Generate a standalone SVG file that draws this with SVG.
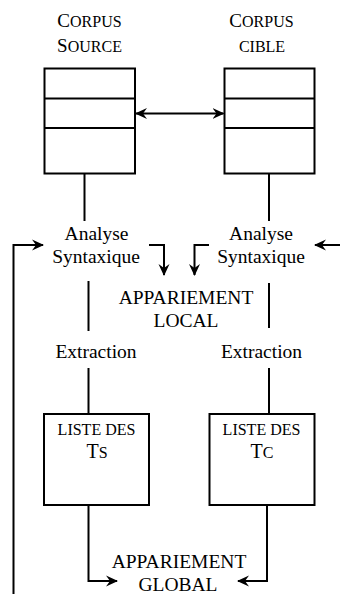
<svg xmlns="http://www.w3.org/2000/svg" width="340" height="594" viewBox="0 0 340 594">
<style>
text{font-family:"Liberation Serif","Times New Roman",serif;fill:#000;text-anchor:middle}
.t{font-size:19.5px}
.big{font-size:19px}
.sc{font-size:16px}
.box{fill:#fff;stroke:#000;stroke-width:2}
.ln{fill:none;stroke:#000;stroke-width:2}
.ar{fill:none;stroke:#000;stroke-width:2;marker-end:url(#ah)}
.ar2{fill:none;stroke:#000;stroke-width:2;marker-end:url(#ah);marker-start:url(#ahs)}
</style>
<defs>
<marker id="ah" viewBox="0 0 12 12" refX="11" refY="6" markerWidth="12" markerHeight="12" markerUnits="userSpaceOnUse" orient="auto">
<path d="M0,0.5 L12,6 L0,11.5 L4,6 z" fill="#000"/>
</marker>
<marker id="ahs" viewBox="0 0 12 12" refX="1" refY="6" markerWidth="12" markerHeight="12" markerUnits="userSpaceOnUse" orient="auto">
<path d="M12,0.5 L0,6 L12,11.5 L8,6 z" fill="#000"/>
</marker>
</defs>
<g id="corpus-source">
<text x="89.5" y="27"><tspan class="big">C</tspan><tspan class="sc">ORPUS</tspan></text>
<text x="89.5" y="52"><tspan class="big">S</tspan><tspan class="sc">OURCE</tspan></text>
<rect class="box" x="44.5" y="68.5" width="90.5" height="105"/>
<line class="ln" x1="44.5" y1="98.5" x2="135" y2="98.5"/>
<line class="ln" x1="44.5" y1="128" x2="135" y2="128"/>
</g>
<g id="corpus-cible">
<text x="261.5" y="27"><tspan class="big">C</tspan><tspan class="sc">ORPUS</tspan></text>
<text x="262" y="52" class="sc">CIBLE</text>
<rect class="box" x="224.5" y="68.5" width="90" height="105"/>
<line class="ln" x1="224.5" y1="98.5" x2="314.5" y2="98.5"/>
<line class="ln" x1="224.5" y1="128" x2="314.5" y2="128"/>
</g>
<g id="analyse-source">
<text class="t" x="96.5" y="240">Analyse</text>
<text class="t" x="96" y="263">Syntaxique</text>
</g>
<g id="analyse-cible">
<text class="t" x="261" y="240">Analyse</text>
<text class="t" x="261" y="263">Syntaxique</text>
</g>
<g id="appariement-local">
<text class="t" x="186" y="304">APPARIEMENT</text>
<text class="t" x="186" y="327">LOCAL</text>
</g>
<g id="extraction-source">
<text class="t" x="96" y="358">Extraction</text>
</g>
<g id="extraction-cible">
<text class="t" x="261.5" y="358">Extraction</text>
</g>
<g id="liste-ts">
<rect class="box" x="44" y="414" width="105" height="91"/>
<text class="sc" x="96.5" y="435">LISTE DES</text>
<text x="97" y="458"><tspan style="font-size:20px">T</tspan><tspan class="sc">S</tspan></text>
</g>
<g id="liste-tc">
<rect class="box" x="209.5" y="414" width="105" height="91"/>
<text class="sc" x="261.5" y="435">LISTE DES</text>
<text x="262" y="458"><tspan style="font-size:20px">T</tspan><tspan class="sc">C</tspan></text>
</g>
<g id="appariement-global">
<text class="t" x="179" y="568">APPARIEMENT</text>
<text class="t" x="178" y="591">GLOBAL</text>
</g>
<g id="connectors">
<line class="ar2" x1="136" y1="113.5" x2="223.5" y2="113.5"/>
<line class="ln" x1="84.5" y1="174" x2="84.5" y2="221"/>
<line class="ln" x1="269" y1="174" x2="269" y2="221"/>
<polyline class="ar" points="13.5,594 13.5,245 43,245"/>
<line class="ar" x1="340" y1="245" x2="315" y2="245"/>
<polyline class="ar" points="149,245 164,245 164,275"/>
<polyline class="ar" points="209,245 194.5,245 194.5,275"/>
<line class="ln" x1="88.5" y1="281" x2="88.5" y2="331"/>
<line class="ln" x1="269" y1="283" x2="269" y2="328"/>
<line class="ln" x1="88.5" y1="368" x2="88.5" y2="414"/>
<line class="ln" x1="269" y1="368" x2="269" y2="414"/>
<polyline class="ar" points="88.5,505 88.5,581 117,581"/>
<polyline class="ar" points="267,505 267,581 238,581"/>
</g>
</svg>
